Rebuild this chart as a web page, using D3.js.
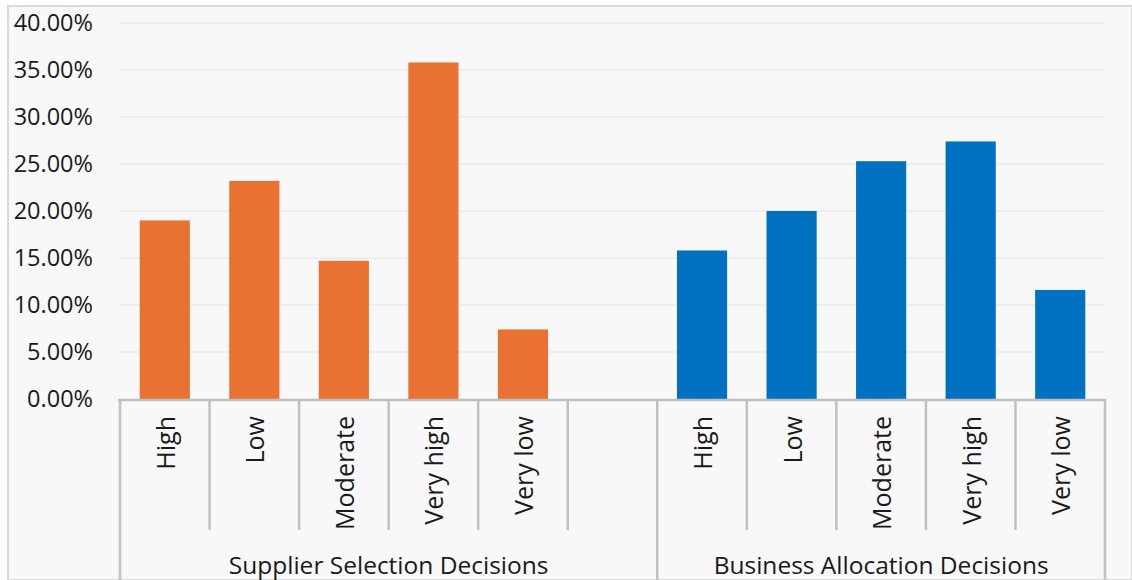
<!DOCTYPE html>
<html><head><meta charset="utf-8">
<script src="https://cdn.jsdelivr.net/npm/d3@7"></script>
<style>body{margin:0;background:#fff;}svg{display:block;font-family:"Open Sans",sans-serif;}</style>
</head><body><svg id="c" width="1132" height="580"></svg>
<script>
const groups = ["Supplier Selection Decisions", "Business Allocation Decisions"];
const categories = ["High", "Low", "Moderate", "Very high", "Very low"];
const supplierValues = [0.19, 0.232, 0.147, 0.358, 0.074];
const businessValues = [0.158, 0.20, 0.253, 0.274, 0.116];
const yTicks = [0, 0.05, 0.10, 0.15, 0.20, 0.25, 0.30, 0.35, 0.40];
const colors = ["#E97132", "#0070C0"];

const svg = d3.select("#c");
const W = 1132, H = 580;
const x0 = 120, x1 = 1105, y0 = 399, y1 = 23;

svg.append("rect").attr("x", 8).attr("y", 6).attr("width", W - 8).attr("height", H - 6)
  .attr("fill", "#f8f8f8").attr("stroke", "#d9d9d9").attr("stroke-width", 2);

// slots: group 1 has 5 categories + a blank slot, group 2 has 5
const slots = [];
categories.forEach(c => slots.push("0|" + c));
slots.push("0|");
categories.forEach(c => slots.push("1|" + c));

const x = d3.scaleBand().domain(slots).range([x0, x1]).padding(0);
const y = d3.scaleLinear().domain([0, 0.40]).range([y0, y1]);

// gridlines
svg.append("g").selectAll("line").data(yTicks.slice(1)).join("line")
  .attr("x1", x0).attr("x2", x1 - 1).attr("y1", d => y(d)).attr("y2", d => y(d))
  .attr("stroke", "#ebebeb").attr("stroke-width", 1.5);

// y labels
svg.append("g").selectAll("text").data(yTicks).join("text")
  .attr("x", 93).attr("y", d => y(d)).attr("dy", "0.36em").attr("text-anchor", "end")
  .attr("font-size", 23.5).attr("fill", "#1a1a1a").text(d3.format(".2%"));

// bars
const data = [];
categories.forEach((c, i) => data.push({key: "0|" + c, v: supplierValues[i], g: 0}));
categories.forEach((c, i) => data.push({key: "1|" + c, v: businessValues[i], g: 1}));
const bw = x.bandwidth() * 0.56;
svg.append("g").selectAll("rect").data(data).join("rect")
  .attr("x", d => x(d.key) + (x.bandwidth() - bw) / 2).attr("width", bw)
  .attr("y", d => y(d.v)).attr("height", d => y0 - y(d.v))
  .attr("fill", d => colors[d.g]);

// axis line
svg.append("line").attr("x1", x0 - 2).attr("x2", x1 + 1).attr("y1", y0 + 1).attr("y2", y0 + 1)
  .attr("stroke", "#c0c0c0").attr("stroke-width", 2.5);

// category separators
const innerBounds = slots.map(s => x(s)).filter((v, i) => i !== 0 && i !== 6);
svg.append("g").selectAll("line").data(innerBounds).join("line")
  .attr("x1", d => d).attr("x2", d => d).attr("y1", y0).attr("y2", 530)
  .attr("stroke", "#c0c0c0").attr("stroke-width", 2.5);
// group separators
const groupBounds = [x0, x(slots[6]), x1];
svg.append("g").selectAll("line").data(groupBounds).join("line")
  .attr("x1", d => d).attr("x2", d => d).attr("y1", y0).attr("y2", H)
  .attr("stroke", "#c0c0c0").attr("stroke-width", 2.5);

// category labels
svg.append("g").selectAll("text").data(slots.filter(s => s.split("|")[1] !== "")).join("text")
  .attr("transform", d => `translate(${x(d) + x.bandwidth() / 2 + 1},416) rotate(-90)`)
  .attr("dy", "0.36em").attr("text-anchor", "end").attr("font-size", 25).attr("fill", "#1a1a1a")
  .text(d => d.split("|")[1]);

// group labels
svg.append("g").selectAll("text").data(groups).join("text")
  .attr("x", (d, i) => (groupBounds[i] + groupBounds[i + 1]) / 2).attr("y", 574)
  .attr("text-anchor", "middle").attr("font-size", 24.5).attr("fill", "#1a1a1a").text(d => d);
</script></body></html>
